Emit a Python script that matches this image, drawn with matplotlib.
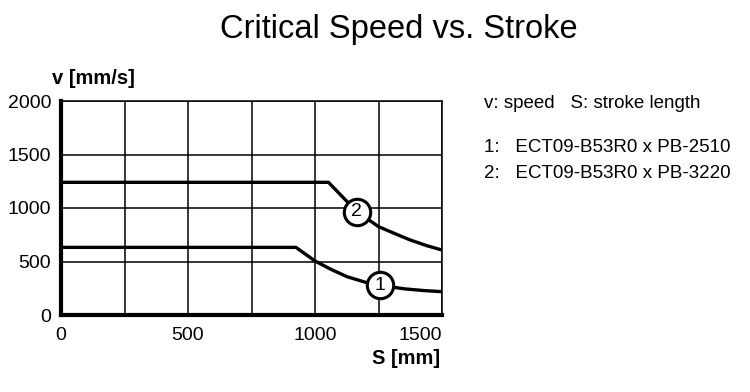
import matplotlib
matplotlib.use("Agg")
import matplotlib.pyplot as plt

# Data
s1 = [0, 925, 1000, 1060, 1126, 1200, 1257, 1350, 1430, 1500]
v1 = [632, 632, 505, 430, 358, 305, 277, 245, 228, 218]
s2 = [0, 1053, 1110, 1165, 1250, 1320, 1375, 1440, 1500]
v2 = [1240, 1240, 1100, 966, 826, 755, 701, 648, 607]
label_pts = [(1257, 277, "1"), (1165, 966, "2")]
xticks = [0, 500, 1000, 1500]
yticks = [0, 500, 1000, 1500, 2000]
xgrid = [0, 250, 500, 750, 1000, 1250, 1500]
ygrid = [0, 500, 1000, 1500, 2000]

W, H = 750, 392
fig = plt.figure(figsize=(W / 100, H / 100), dpi=100)
ax = fig.add_axes([61 / W, 1 - 315 / H, (442 - 61) / W, (315 - 101) / H])

sans = ["Liberation Sans", "DejaVu Sans"]

for x in xgrid:
    ax.axvline(x, color="black", lw=1.1, zorder=1)
for y in ygrid:
    ax.axhline(y, color="black", lw=1.1, zorder=1)

ax.plot(s1, v1, color="black", lw=2.4, zorder=3, solid_capstyle="butt")
ax.plot(s2, v2, color="black", lw=2.4, zorder=3, solid_capstyle="butt")

for x, y, t in label_pts:
    ax.plot([x], [y], marker="o", ms=19, mfc="white", mec="black", mew=2.2, zorder=4)
    ax.text(x, y, t, ha="center", va="center", fontsize=14, family=sans, zorder=5)

ax.set_xlim(0, 1500)
ax.set_ylim(0, 2000)
ax.set_xticks(xticks)
ax.set_yticks(yticks)
ax.set_xticklabels([str(v) for v in xticks], family=sans, fontsize=14)
ax.set_yticklabels([str(v) for v in yticks], family=sans, fontsize=14)
ax.tick_params(axis="y", length=0, pad=7)
ax.tick_params(axis="x", length=0, pad=9)
lbls = ax.get_xticklabels()
lbls[-1].set_horizontalalignment("right")

for side in ["top", "right"]:
    ax.spines[side].set_linewidth(1.1)
for side in ["left", "bottom"]:
    ax.spines[side].set_linewidth(3.0)
    ax.spines[side].set_zorder(6)

fig.text(399 / W, 1 - 38 / H, "Critical Speed vs. Stroke", ha="center", va="baseline",
         fontsize=23.5, family=sans)
fig.text(52 / W, 1 - 79 / H, "v [mm/s]", ha="left", va="center", fontsize=14.5,
         fontweight="bold", family=sans)
fig.text(440 / W, 1 - 359 / H, "S [mm]", ha="right", va="center", fontsize=14.5,
         fontweight="bold", family=sans)

fig.text(484 / W, 1 - 104 / H, "v: speed   S: stroke length", ha="left", va="center",
         fontsize=13.5, family=sans)
fig.text(484 / W, 1 - 147 / H, "1:   ECT09-B53R0 x PB-2510", ha="left", va="center",
         fontsize=13.5, family=sans)
fig.text(484 / W, 1 - 173 / H, "2:   ECT09-B53R0 x PB-3220", ha="left", va="center",
         fontsize=13.5, family=sans)

fig.savefig("out.png", dpi=100, facecolor="white")
